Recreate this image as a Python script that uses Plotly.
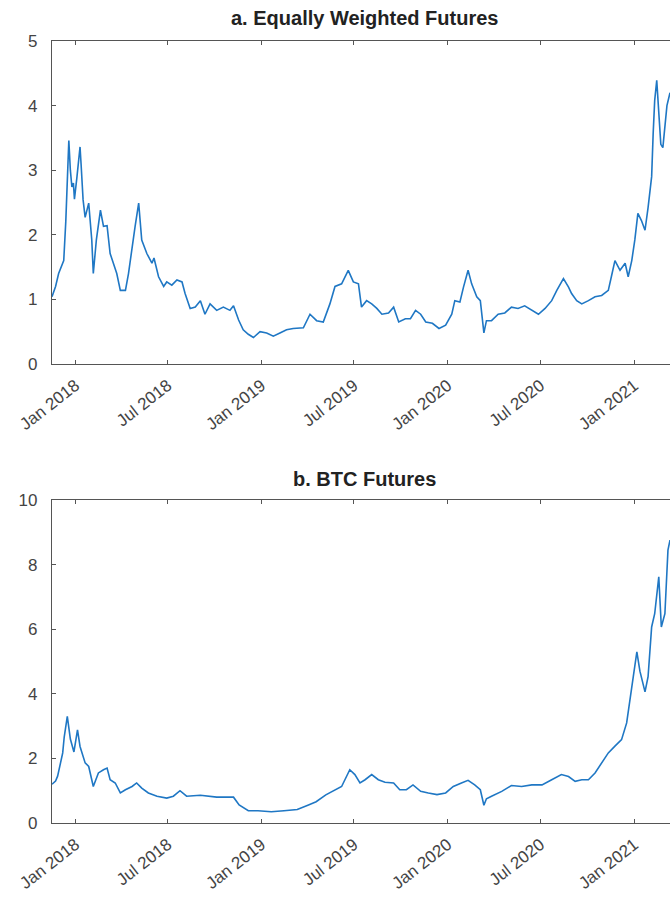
import plotly.graph_objects as go

# ---- Panel a: Equally Weighted Futures (cumulative value) ----
dates_a = [
    "2017-11-16", "2017-11-19", "2017-11-23", "2017-11-29", "2017-12-06", "2017-12-09",
    "2017-12-13", "2017-12-16", "2017-12-19", "2017-12-22", "2017-12-25", "2017-12-28",
    "2017-12-30", "2018-01-04", "2018-01-07", "2018-01-10", "2018-01-12", "2018-01-16",
    "2018-01-20", "2018-01-27", "2018-02-02", "2018-02-05", "2018-02-11", "2018-02-19",
    "2018-02-25", "2018-03-04", "2018-03-10", "2018-03-17", "2018-03-23", "2018-03-30",
    "2018-04-09", "2018-04-15", "2018-04-22", "2018-04-28", "2018-05-05", "2018-05-11",
    "2018-05-21", "2018-05-31", "2018-06-04", "2018-06-13", "2018-06-23", "2018-06-29",
    "2018-07-09", "2018-07-19", "2018-07-29", "2018-08-04", "2018-08-14", "2018-08-24",
    "2018-09-03", "2018-09-12", "2018-09-22", "2018-10-05", "2018-10-18", "2018-10-31",
    "2018-11-07", "2018-11-17", "2018-11-26", "2018-12-06", "2018-12-16", "2018-12-29",
    "2019-01-11", "2019-01-24", "2019-02-06", "2019-02-19", "2019-03-04", "2019-03-24",
    "2019-04-06", "2019-04-19", "2019-05-02", "2019-05-15", "2019-05-25", "2019-06-07",
    "2019-06-20", "2019-06-30", "2019-07-10", "2019-07-16", "2019-07-26", "2019-08-05",
    "2019-08-15", "2019-08-25", "2019-09-07", "2019-09-17", "2019-09-27", "2019-10-10",
    "2019-10-20", "2019-10-30", "2019-11-09", "2019-11-19", "2019-12-02", "2019-12-15",
    "2019-12-28", "2020-01-09", "2020-01-15", "2020-01-25", "2020-02-01", "2020-02-10",
    "2020-02-17", "2020-02-27", "2020-03-05", "2020-03-12", "2020-03-17", "2020-03-27",
    "2020-04-09", "2020-04-22", "2020-05-05", "2020-05-18", "2020-05-31", "2020-06-14",
    "2020-06-27", "2020-07-10", "2020-07-23", "2020-08-02", "2020-08-15", "2020-08-25",
    "2020-08-31", "2020-09-10", "2020-09-20", "2020-10-03", "2020-10-16", "2020-10-29",
    "2020-11-11", "2020-11-17", "2020-11-24", "2020-12-04", "2020-12-14", "2020-12-20",
    "2020-12-27", "2021-01-02", "2021-01-08", "2021-01-15", "2021-01-22", "2021-01-28",
    "2021-02-04", "2021-02-07", "2021-02-10", "2021-02-14", "2021-02-18", "2021-02-22",
    "2021-02-26", "2021-03-02", "2021-03-06", "2021-03-12",
]
values_a = [
    1.04, 1.10, 1.20, 1.40, 1.56, 1.60,
    2.20, 2.80, 3.46, 3.00, 2.74, 2.80,
    2.55, 2.90, 3.20, 3.36, 3.10, 2.54,
    2.27, 2.49, 1.92, 1.40, 1.92, 2.38,
    2.13, 2.14, 1.71, 1.56, 1.40, 1.14,
    1.14, 1.40, 1.82, 2.13, 2.49, 1.92,
    1.71, 1.56, 1.64, 1.35, 1.20, 1.27,
    1.22, 1.30, 1.27, 1.09, 0.86, 0.88,
    0.98, 0.77, 0.93, 0.83, 0.88, 0.83,
    0.90, 0.68, 0.53, 0.46, 0.41, 0.50,
    0.48, 0.43, 0.48, 0.53, 0.55, 0.56,
    0.77, 0.67, 0.65, 0.93, 1.20, 1.24,
    1.45, 1.27, 1.24, 0.88, 0.98, 0.93,
    0.86, 0.77, 0.79, 0.88, 0.65, 0.70,
    0.70, 0.83, 0.77, 0.65, 0.63, 0.55,
    0.60, 0.77, 0.98, 0.96, 1.19, 1.45,
    1.24, 1.04, 0.98, 0.48, 0.67, 0.67,
    0.77, 0.79, 0.88, 0.86, 0.90, 0.83,
    0.77, 0.86, 0.98, 1.14, 1.32, 1.19,
    1.09, 0.98, 0.93, 0.98, 1.04, 1.06,
    1.14, 1.35, 1.60, 1.45, 1.56, 1.35,
    1.60, 1.92, 2.33, 2.22, 2.07, 2.42,
    2.90, 3.57, 4.08, 4.39, 3.80, 3.40,
    3.35, 3.70, 4.00, 4.20,
]

# ---- Panel b: BTC Futures (cumulative value) ----
dates_b = [
    "2017-11-16", "2017-11-23", "2017-11-27", "2017-12-07", "2017-12-10", "2017-12-16",
    "2017-12-22", "2017-12-29", "2018-01-05", "2018-01-10", "2018-01-20", "2018-01-27",
    "2018-02-05", "2018-02-15", "2018-02-25", "2018-03-04", "2018-03-10", "2018-03-20",
    "2018-03-30", "2018-04-09", "2018-04-22", "2018-05-01", "2018-05-11", "2018-05-24",
    "2018-06-10", "2018-06-29", "2018-07-12", "2018-07-25", "2018-08-07", "2018-09-03",
    "2018-10-05", "2018-11-07", "2018-11-18", "2018-12-06", "2018-12-25", "2019-01-20",
    "2019-02-14", "2019-03-12", "2019-04-03", "2019-04-18", "2019-05-07", "2019-05-25",
    "2019-06-07", "2019-06-23", "2019-07-03", "2019-07-13", "2019-07-23", "2019-08-05",
    "2019-08-18", "2019-08-31", "2019-09-17", "2019-09-29", "2019-10-12", "2019-10-25",
    "2019-11-09", "2019-11-24", "2019-12-11", "2019-12-28", "2020-01-12", "2020-01-28",
    "2020-02-10", "2020-02-23", "2020-03-05", "2020-03-12", "2020-03-17", "2020-03-27",
    "2020-04-16", "2020-05-05", "2020-05-25", "2020-06-14", "2020-07-04", "2020-07-23",
    "2020-08-11", "2020-08-25", "2020-09-07", "2020-09-20", "2020-10-03", "2020-10-16",
    "2020-10-29", "2020-11-11", "2020-11-24", "2020-12-07", "2020-12-17", "2020-12-23",
    "2020-12-30", "2021-01-06", "2021-01-12", "2021-01-22", "2021-01-28", "2021-02-04",
    "2021-02-10", "2021-02-18", "2021-02-23", "2021-03-02", "2021-03-08", "2021-03-12",
]
values_b = [
    1.20, 1.30, 1.45, 2.17, 2.67, 3.30,
    2.60, 2.20, 2.88, 2.37, 1.86, 1.75,
    1.13, 1.55, 1.65, 1.70, 1.34, 1.24,
    0.93, 1.03, 1.13, 1.24, 1.08, 0.93,
    0.83, 0.77, 0.83, 1.00, 0.83, 0.86,
    0.80, 0.80, 0.56, 0.38, 0.38, 0.35,
    0.38, 0.42, 0.56, 0.66, 0.87, 1.03,
    1.13, 1.65, 1.50, 1.24, 1.34, 1.50,
    1.34, 1.26, 1.24, 1.03, 1.03, 1.18,
    0.98, 0.93, 0.88, 0.93, 1.13, 1.24,
    1.32, 1.18, 1.03, 0.55, 0.75, 0.83,
    0.98, 1.16, 1.13, 1.18, 1.18, 1.34,
    1.50, 1.44, 1.29, 1.34, 1.34, 1.55,
    1.86, 2.17, 2.38, 2.58, 3.10, 3.71,
    4.53, 5.30, 4.70, 4.06, 4.53, 6.07,
    6.48, 7.62, 6.07, 6.48, 8.45, 8.76,
]

tick_dates = ["2018-01-01", "2018-07-01", "2019-01-01", "2019-07-01",
              "2020-01-01", "2020-07-01", "2021-01-01"]
tick_labels = ["Jan 2018", "Jul 2018", "Jan 2019", "Jul 2019",
               "Jan 2020", "Jul 2020", "Jan 2021"]
titles = ["a. Equally Weighted Futures", "b. BTC Futures"]
x_range = ["2017-11-16", "2021-03-12"]

LINE = "#1f77c4"
AX = "#555555"
TXT = "#444444"
FONT = "Liberation Sans, Arial, sans-serif"

fig = go.Figure()
fig.add_trace(go.Scatter(x=dates_a, y=values_a, mode="lines",
                         line=dict(color=LINE, width=1.6), xaxis="x", yaxis="y",
                         showlegend=False))
fig.add_trace(go.Scatter(x=dates_b, y=values_b, mode="lines",
                         line=dict(color=LINE, width=1.6), xaxis="x2", yaxis="y2",
                         showlegend=False))

xcommon = dict(type="date", range=x_range, tickmode="array", tickvals=tick_dates,
               ticktext=tick_labels, tickangle=-38, ticks="inside", ticklen=4,
               tickcolor=AX, showline=True, linecolor=AX, linewidth=1.2,
               mirror="ticks", showgrid=False, zeroline=False, ticklabelstandoff=4,
               tickfont=dict(family=FONT, size=17, color=TXT))
ycommon = dict(ticks="inside", ticklen=4, tickcolor=AX, showline=True, linecolor=AX,
               linewidth=1.2, showgrid=False, zeroline=False, mirror=False,
               ticklabelstandoff=10,
               tickfont=dict(family=FONT, size=17, color=TXT))

fig.update_layout(
    width=670, height=910, autosize=False,
    margin=dict(l=52, r=0, t=41, b=87),
    paper_bgcolor="white", plot_bgcolor="white",
    xaxis=dict(**xcommon, domain=[0, 1], anchor="y"),
    yaxis=dict(**ycommon, domain=[0.587, 1], range=[0, 5], tickvals=[0, 1, 2, 3, 4, 5],
               anchor="x"),
    xaxis2=dict(**xcommon, domain=[0, 1], anchor="y2"),
    yaxis2=dict(**ycommon, domain=[0, 0.413], range=[0, 10],
                tickvals=[0, 2, 4, 6, 8, 10], anchor="x2"),
    annotations=[
        dict(text="<b>%s</b>" % titles[0], x=0.505, y=1.0, xref="paper", yref="paper",
             xanchor="center", yanchor="bottom", yshift=10, showarrow=False,
             font=dict(family=FONT, size=20, color="#222222")),
        dict(text="<b>%s</b>" % titles[1], x=0.505, y=0.413, xref="paper", yref="paper",
             xanchor="center", yanchor="bottom", yshift=8, showarrow=False,
             font=dict(family=FONT, size=20, color="#222222")),
    ],
)

fig.write_html("out.html")
